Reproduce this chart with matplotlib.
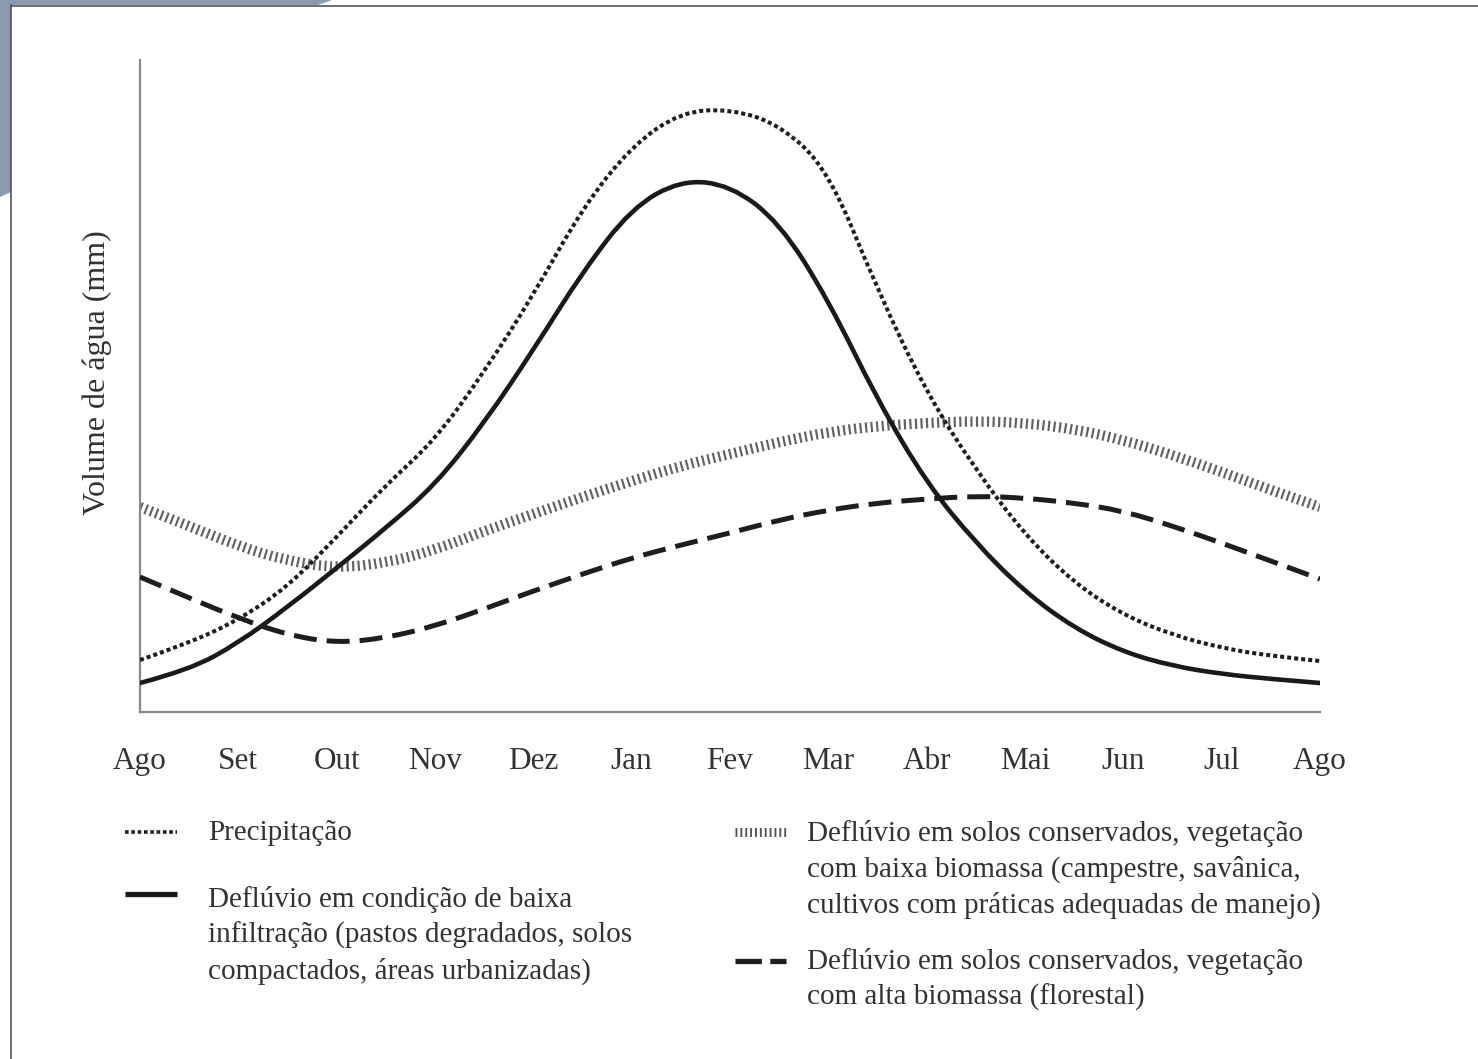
import matplotlib
matplotlib.use("Agg")
import matplotlib.pyplot as plt
from matplotlib.lines import Line2D
from matplotlib.patches import Polygon, PathPatch
from matplotlib.path import Path

plt.rcParams['font.family'] = ['Liberation Serif', 'DejaVu Serif']

# ---- data (arbitrary volume units) ----
months = ['Ago', 'Set', 'Out', 'Nov', 'Dez', 'Jan', 'Fev', 'Mar',
          'Abr', 'Mai', 'Jun', 'Jul', 'Ago']
t = [0, 0.5, 1, 1.5, 2, 2.5, 3, 3.5, 4, 4.5, 5, 5.5, 6, 6.5, 7, 7.5,
     8, 8.5, 9, 9.5, 10, 10.5, 11, 11.5, 12]
precipitacao = [52, 69, 92, 125, 175, 227, 272, 340, 417, 504, 566, 600,
                603, 588, 542, 422, 319, 242, 177, 129, 97, 77, 64, 56, 51]
baixa_infiltracao = [29, 42, 69, 105, 144, 184, 227, 289, 362, 440, 504, 532,
                     527, 490, 412, 312, 229, 169, 120, 84, 60, 46, 38, 33, 29]
baixa_biomassa = [205, 186, 166, 151, 144, 149, 162, 181, 198, 215, 231, 246,
                  258, 270, 280, 286, 289, 291, 289, 283, 272, 257, 240, 222, 205]
alta_biomassa = [135, 114, 94, 77, 69, 74, 86, 103, 121, 138, 154, 167,
                 179, 192, 202, 209, 213, 216, 214, 209, 201, 186, 169, 151, 133]

labels = [
    'Precipitação',
    'Deflúvio em condição de baixa\ninfiltração (pastos degradados, solos\ncompactados, áreas urbanizadas)',
    'Deflúvio em solos conservados, vegetação\ncom baixa biomassa (campestre, savânica,\ncultivos com práticas adequadas de manejo)',
    'Deflúvio em solos conservados, vegetação\ncom alta biomassa (florestal)',
]

W, H = 1478, 1059
fig = plt.figure(figsize=(W / 100, H / 100), dpi=100)
fig.patch.set_facecolor('white')

def fx(px):
    return px / W

def fy(py):
    return 1 - py / H

# decorative slide frame
deco = Polygon([(fx(0), fy(0)), (fx(332), fy(0)), (fx(318), fy(5)), (fx(11), fy(5)),
                (fx(11), fy(192)), (fx(0), fy(197))], closed=True,
               transform=fig.transFigure, facecolor='#8a9bb0', edgecolor='none')
fig.add_artist(deco)
fig.add_artist(Line2D([fx(11), fx(1478)], [fy(5.5), fy(5.5)], transform=fig.transFigure,
                      color='#555555', lw=1.2))
fig.add_artist(Line2D([fx(11), fx(11)], [fy(5), fy(1059)], transform=fig.transFigure,
                      color='#555555', lw=1.2))

ax = fig.add_axes([fx(140), fy(712), fx(1320) - fx(140), (712 - 60) / H])
ax.set_xlim(0, 12)
ax.set_ylim(0, 652)


def smooth_curve(ax, xs, ys, color, lw, ls, capstyle='butt', z=2):
    """Quadratic B-spline style path drawn by matplotlib through the data control points."""
    pts = list(zip(xs, ys))
    n = len(pts)
    verts = [pts[0]]
    codes = [Path.MOVETO]
    for i in range(1, n - 1):
        ctrl = pts[i]
        if i < n - 2:
            end = ((pts[i][0] + pts[i + 1][0]) / 2, (pts[i][1] + pts[i + 1][1]) / 2)
        else:
            end = pts[n - 1]
        verts += [ctrl, end]
        codes += [Path.CURVE3, Path.CURVE3]
    patch = PathPatch(Path(verts, codes), facecolor='none', edgecolor=color, lw=lw,
                      linestyle=ls, capstyle=capstyle, transform=ax.transData, zorder=z)
    ax.add_patch(patch)


smooth_curve(ax, t, baixa_biomassa, '#626262', 7.4, (0, (0.21, 0.33)), z=2)
smooth_curve(ax, t, alta_biomassa, '#1e1e1e', 3.6, (0, (4.6, 2.0)), z=3)
smooth_curve(ax, t, precipitacao, '#1e1e1e', 2.9, (0, (1.0, 0.75)), z=4)
smooth_curve(ax, t, baixa_infiltracao, '#1a1a1a', 3.3, '-', capstyle='round', z=5)

for s in ['top', 'right']:
    ax.spines[s].set_visible(False)
for s in ['left', 'bottom']:
    ax.spines[s].set_color('#8a8a8a')
    ax.spines[s].set_linewidth(1.6)
ax.set_xticks(range(len(months)))
ax.set_xticklabels(months, fontsize=22.5, color='#333333')
ax.tick_params(axis='x', length=0, pad=25)
ax.set_yticks([])

fig.text(fx(97), fy(373), 'Volume de água (mm)', rotation=90, ha='center', va='center',
         fontsize=23, color='#333333')

# ---- legend (manual) ----
def handle(x0, x1, y, st):
    fig.add_artist(Line2D([fx(x0), fx(x1)], [fy(y), fy(y)], transform=fig.transFigure, **st))

handle(125, 177, 832, dict(color='#1e1e1e', lw=2.6, dashes=(1.0, 0.75), dash_capstyle='butt'))
handle(125, 177, 894, dict(color='#1a1a1a', lw=3.8, solid_capstyle='butt'))
handle(735, 786, 832, dict(color='#555555', lw=6.5, dashes=(0.21, 0.33), dash_capstyle='butt'))
handle(735, 786, 961, dict(color='#1e1e1e', lw=3.8, dashes=(5.0, 1.6), dash_capstyle='butt'))

txt = dict(fontsize=21, color='#333333', va='top', ha='left', linespacing=1.42)
fig.text(fx(208), fy(820), labels[0], **txt)
fig.text(fx(208), fy(886), labels[1], **txt)
fig.text(fx(807), fy(820), labels[2], **txt)
fig.text(fx(807), fy(948), labels[3], **txt)

fig.savefig('out.png', dpi=100, facecolor='white')
